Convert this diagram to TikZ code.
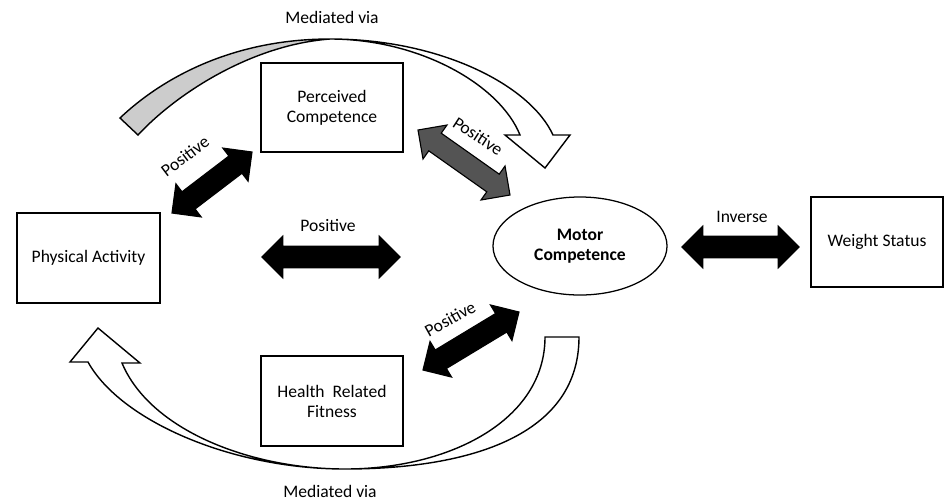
\documentclass[tikz,border=0pt]{standalone}
\usepackage{fontspec}
\setmainfont{Carlito}
\usepackage{tikz}
\usetikzlibrary{calc,shapes.geometric}
\definecolor{arrowgray}{gray}{0.33}
\definecolor{ribbongray}{gray}{0.80}
\newcommand\fatarrow[3][black]{%
\draw[line width=0.8pt,fill=#1,line join=miter] (#2)
 -- ($(#2)!0.52cm!(#3)!0.52cm!90:(#3)$) -- ($(#2)!0.52cm!(#3)!0.27cm!90:(#3)$)
 -- ($(#3)!0.52cm!(#2)!0.27cm!-90:(#2)$) -- ($(#3)!0.52cm!(#2)!0.52cm!-90:(#2)$)
 -- (#3)
 -- ($(#3)!0.52cm!(#2)!0.52cm!90:(#2)$) -- ($(#3)!0.52cm!(#2)!0.27cm!90:(#2)$)
 -- ($(#2)!0.52cm!(#3)!0.27cm!-90:(#3)$) -- ($(#2)!0.52cm!(#3)!0.52cm!-90:(#3)$)
 -- cycle;}
\begin{document}
\begin{tikzpicture}[x=0.025cm,y=-0.025cm,
  font=\fontsize{12.5}{14.2}\selectfont,
  box/.style={draw,line width=0.9pt,align=center,minimum width=3.55cm,minimum height=2.25cm},
  ribbon/.style={draw,line width=1pt,line join=miter}]
\useasboundingbox (0,0) rectangle (945,502);
\node[box,minimum width=3.575cm] (pa) at (88.5,258) {Physical Activity};
\node[box,minimum height=2.225cm] (pc) at (332,107.5) {Perceived\\Competence};
\node[box] (hrf) at (332,401) {Health~~Related\\Fitness};
\node[draw,ellipse,line width=0.9pt,align=center,minimum width=4.35cm,minimum height=2.45cm,font=\fontsize{12.5}{14.2}\selectfont\bfseries] (mc) at (580,246) {Motor\\Competence};
\node[box,minimum width=3.3cm] (ws) at (877,242) {Weight Status};

\fill[ribbongray] (120,118) .. controls (160,80) and (230,39) .. (330,39) .. controls (250,45) and (175,95) .. (138,135) -- cycle;
\path[ribbon] (120,118) .. controls (160,80) and (230,39) .. (330,39) .. controls (440,39) and (530,85) .. (553,135) -- (570,135) -- (545,168) -- (505,135) -- (520,135) .. controls (500,85) and (420,39) .. (330,39) .. controls (250,45) and (175,95) .. (138,135) -- cycle;
\path[ribbon] (545,337) -- (579,337) .. controls (579,440) and (460,469) .. (345,469) .. controls (230,469) and (120,420) .. (88,362) -- (70,362) -- (98,328) -- (140,363) -- (122,363) .. controls (150,430) and (250,469) .. (345,469) .. controls (450,469) and (545,420) .. (545,337) -- cycle;
\node (medtop) at (332,17) {Mediated via};
\node (medbot) at (330,491) {Mediated via};

\coordinate (papcA) at (172,213);
\coordinate (papcB) at (252,152);
\coordinate (pamcA) at (262,257);
\coordinate (pamcB) at (400,257);
\coordinate (pcmcA) at (418,130);
\coordinate (pcmcB) at (510,195);
\coordinate (hfmcA) at (423,370);
\coordinate (hfmcB) at (519,312);
\coordinate (mcwsA) at (682,247);
\coordinate (mcwsB) at (799,247);
\fatarrow{papcA}{papcB}
\fatarrow{pamcA}{pamcB}
\fatarrow[arrowgray]{pcmcA}{pcmcB}
\fatarrow{hfmcA}{hfmcB}
\fatarrow{mcwsA}{mcwsB}
\node[rotate=37] (lpapc) at (185,156) {Positive};
\node (lpamc) at (328,225) {Positive};
\node[rotate=-33] (lpcmc) at (478,136) {Positive};
\node[rotate=29] (lhfmc) at (450,319) {Positive};
\node (lmcws) at (742,217) {Inverse};
\end{tikzpicture}
\end{document}
